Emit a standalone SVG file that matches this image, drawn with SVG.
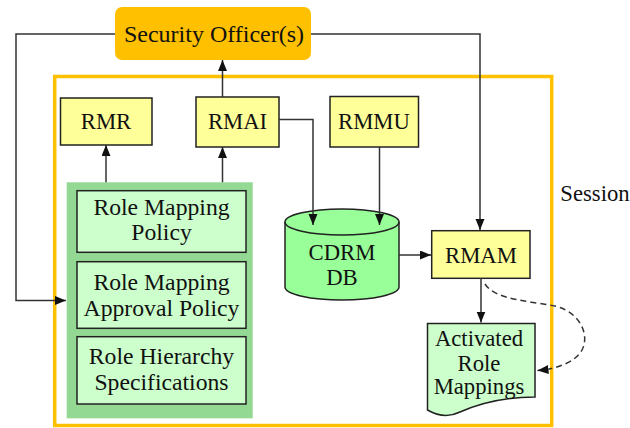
<svg xmlns="http://www.w3.org/2000/svg" width="630" height="428" viewBox="0 0 630 428">
<defs>
<marker id="ah" markerUnits="userSpaceOnUse" markerWidth="12" markerHeight="10" refX="11" refY="4.5" orient="auto">
<path d="M0,0 L11,4.5 L0,9 z" fill="#111"/>
</marker>
<style>
text{font-family:'Liberation Serif','DejaVu Serif',serif;font-size:22.7px;fill:#111;text-anchor:middle}
.big{font-size:23.7px}
.so{font-size:24px}
.box{fill:#FFFF99;stroke:#222;stroke-width:1.5}
.pol{fill:#CCFFCC;stroke:#222;stroke-width:1.5}
.c{fill:none;stroke:#333;stroke-width:1.5}
</style>
</defs>
<rect id="session" x="54.7" y="76.5" width="497" height="349" fill="none" stroke="#FFC000" stroke-width="3.5"/>
<text x="595" y="200.5">Session</text>
<g id="security-officer">
<rect x="115" y="7" width="196" height="53" rx="7" fill="#FFC000"/>
<text class="so" x="214" y="42">Security Officer(s)</text>
</g>
<g id="rmr">
<rect class="box" x="60.5" y="98" width="91.5" height="47"/>
<text x="106" y="128.5">RMR</text>
</g>
<g id="rmai">
<rect class="box" x="196" y="97" width="83" height="50"/>
<text x="237.5" y="129">RMAI</text>
</g>
<g id="rmmu">
<rect class="box" x="330" y="96.5" width="88.5" height="50.5"/>
<text x="374" y="129">RMMU</text>
</g>
<g id="policies">
<rect x="66.7" y="182.3" width="186" height="236" fill="#93D893"/>
<rect class="pol" x="77" y="190.7" width="169" height="61.6"/>
<text class="big" x="161.5" y="215">Role Mapping</text>
<text class="big" x="161.5" y="239.5">Policy</text>
<rect class="pol" x="77" y="261.7" width="169" height="66.6"/>
<text class="big" x="161.5" y="290">Role Mapping</text>
<text class="big" x="161.5" y="316">Approval Policy</text>
<rect class="pol" x="77" y="336.7" width="169" height="67.3"/>
<text class="big" x="161.5" y="363.5">Role Hierarchy</text>
<text class="big" x="161.5" y="390">Specifications</text>
</g>
<g id="cdrm-db">
<path d="M285 222 V287 A57 13 0 0 0 399 287 V222 A57 13 0 0 0 285 222 Z" fill="#99FF99" stroke="#222" stroke-width="1.5"/>
<path d="M285 222 A57 13 0 0 0 399 222" fill="none" stroke="#222" stroke-width="1.5"/>
<text x="342" y="259.5">CDRM</text>
<text x="342" y="284.5">DB</text>
</g>
<g id="rmam">
<rect class="box" x="431.7" y="230.7" width="98.3" height="47.6"/>
<text x="481" y="262.5">RMAM</text>
</g>
<g id="activated">
<path d="M427.5 323.5 H535 V397 C505 397 480 403 460 412 C448 418 438 416 427.5 410 Z" fill="#CCFFCC" stroke="#222" stroke-width="1.5"/>
<text x="479" y="346">Activated</text>
<text x="479" y="370.5">Role</text>
<text x="479" y="394">Mappings</text>
</g>
<g id="connectors">
<path class="c" d="M115 34 H16 V300.5 H66" marker-end="url(#ah)"/>
<path class="c" d="M311 34 H480 V230" marker-end="url(#ah)"/>
<path class="c" d="M222.5 97 V60" marker-end="url(#ah)"/>
<path class="c" d="M106 182.3 V145" marker-end="url(#ah)"/>
<path class="c" d="M222.5 182.3 V147" marker-end="url(#ah)"/>
<path class="c" d="M279 119.5 H313 V225" marker-end="url(#ah)"/>
<path class="c" d="M379.5 147 V225" marker-end="url(#ah)"/>
<path class="c" d="M399 255 H431" marker-end="url(#ah)"/>
<path class="c" d="M481 278.3 V322.5" marker-end="url(#ah)"/>
<path class="c" d="M485 284 C495 300 530 301 555 306 C580 312 590 335 582 350 C575 363 555 369 537.5 370.5" stroke-dasharray="6,4" marker-end="url(#ah)"/>
</g>
</svg>
